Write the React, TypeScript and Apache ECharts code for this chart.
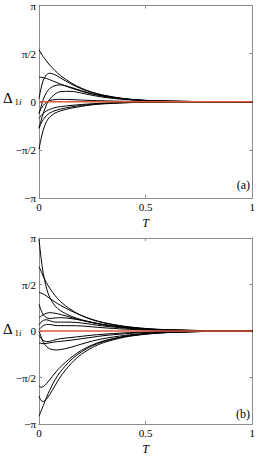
import React, { useEffect, useRef } from "react";
import * as echarts from "echarts";

const T = [0, 0.01, 0.02, 0.035, 0.05, 0.075, 0.1, 0.15, 0.2, 0.25, 0.3, 0.4, 0.5, 0.6, 0.8, 1.0];

const curvesA: number[][] = [
  [1.70, 1.58, 1.47, 1.33, 1.20, 1.02, 0.86, 0.62, 0.44, 0.31, 0.22, 0.10, 0.045, 0.02, 0.004, 0.001],
  [0.80, 0.80, 0.79, 0.76, 0.72, 0.65, 0.58, 0.45, 0.34, 0.25, 0.18, 0.09, 0.04, 0.018, 0.004, 0.001],
  [0.10, 0.45, 0.70, 0.88, 0.93, 0.88, 0.78, 0.58, 0.42, 0.30, 0.21, 0.10, 0.045, 0.02, 0.004, 0.001],
  [-0.40, -0.15, 0.08, 0.30, 0.43, 0.53, 0.55, 0.47, 0.36, 0.26, 0.19, 0.09, 0.04, 0.018, 0.004, 0.001],
  [-0.85, -0.60, -0.38, -0.10, 0.08, 0.25, 0.33, 0.34, 0.28, 0.21, 0.15, 0.075, 0.035, 0.015, 0.003, 0.001],
  [-0.35, -0.22, -0.12, -0.02, 0.04, 0.07, 0.08, 0.07, 0.055, 0.04, 0.03, 0.015, 0.007, 0.003, 0.001, 0],
  [-0.55, -0.45, -0.38, -0.30, -0.25, -0.19, -0.16, -0.12, -0.09, -0.065, -0.045, -0.022, -0.01, -0.005, -0.001, 0],
  [-0.87, -0.70, -0.58, -0.45, -0.37, -0.29, -0.24, -0.17, -0.12, -0.085, -0.06, -0.03, -0.014, -0.006, -0.001, 0],
  [-1.55, -1.20, -0.92, -0.65, -0.50, -0.37, -0.30, -0.21, -0.15, -0.10, -0.07, -0.035, -0.016, -0.007, -0.001, 0],
];

const curvesB: number[][] = [
  [3.10, 2.45, 1.95, 1.45, 1.14, 0.85, 0.69, 0.50, 0.38, 0.29, 0.22, 0.12, 0.06, 0.03, 0.007, 0.002],
  [2.17, 2.02, 1.85, 1.63, 1.45, 1.20, 1.00, 0.72, 0.52, 0.38, 0.28, 0.15, 0.08, 0.04, 0.01, 0.002],
  [1.30, 1.28, 1.25, 1.18, 1.10, 0.98, 0.87, 0.68, 0.52, 0.39, 0.29, 0.16, 0.085, 0.045, 0.012, 0.003],
  [0.90, 0.70, 0.55, 0.45, 0.42, 0.44, 0.45, 0.42, 0.36, 0.29, 0.22, 0.13, 0.07, 0.035, 0.009, 0.002],
  [0.45, 0.50, 0.55, 0.60, 0.62, 0.60, 0.56, 0.46, 0.36, 0.28, 0.21, 0.12, 0.065, 0.033, 0.008, 0.002],
  [0.20, 0.30, 0.36, 0.38, 0.35, 0.30, 0.30, 0.30, 0.27, 0.22, 0.17, 0.10, 0.055, 0.028, 0.007, 0.002],
  [0.05, 0.12, 0.18, 0.22, 0.22, 0.19, 0.18, 0.18, 0.17, 0.14, 0.11, 0.065, 0.035, 0.018, 0.005, 0.001],
  [-0.15, -0.25, -0.32, -0.36, -0.35, -0.30, -0.26, -0.22, -0.18, -0.14, -0.11, -0.065, -0.035, -0.018, -0.005, -0.001],
  [0.0, -0.20, -0.38, -0.52, -0.60, -0.64, -0.63, -0.55, -0.44, -0.34, -0.26, -0.15, -0.08, -0.04, -0.01, -0.002],
  [-0.40, -0.42, -0.43, -0.42, -0.40, -0.37, -0.35, -0.31, -0.26, -0.21, -0.16, -0.095, -0.05, -0.026, -0.006, -0.001],
  [-1.86, -1.90, -1.88, -1.78, -1.65, -1.42, -1.22, -0.90, -0.65, -0.47, -0.34, -0.18, -0.095, -0.05, -0.012, -0.003],
  [-2.20, -2.35, -2.38, -2.30, -2.15, -1.85, -1.55, -1.10, -0.78, -0.56, -0.40, -0.21, -0.11, -0.055, -0.013, -0.003],
  [-2.88, -2.70, -2.52, -2.25, -2.00, -1.65, -1.38, -0.98, -0.70, -0.50, -0.36, -0.19, -0.10, -0.05, -0.012, -0.003],
];

const xTicks = [0, 0.5, 1];
const xTickLabels = ["0", "0.5", "1"];
const yTickLabels: Record<string, string> = { "2": "π", "1": "π/2", "0": "0", "-1": "−π/2", "-2": "−π" };
const panelLabels = ["(a)", "(b)"];
const zeroLine = [0, 0];

const FRAME = "#8c8c8c";
const SERIF = "'Liberation Serif', 'DejaVu Serif', serif";

export default function App() {
  const ref = useRef<HTMLDivElement>(null);
  useEffect(() => {
    if (!ref.current) return;
    const chart = echarts.init(ref.current, undefined, { renderer: "svg" });
    const grids = [
      { left: 39, top: 2, width: 215, height: 196 },
      { left: 39, top: 238, width: 215, height: 186 },
    ];
    const xAxis: any[] = [];
    const yAxis: any[] = [];
    grids.forEach((_, g) => {
      const baseX = {
        gridIndex: g,
        type: "value",
        min: 0,
        max: 1,
        interval: 0.5,
        splitLine: { show: false },
        axisLine: { show: true, onZero: false, lineStyle: { color: FRAME, width: 1 } },
        axisTick: { show: true, inside: true, length: 3, lineStyle: { color: FRAME } },
      };
      xAxis.push({
        ...baseX,
        position: "bottom",
        name: "T",
        nameLocation: "middle",
        nameGap: 19,
        nameTextStyle: { fontFamily: SERIF, fontStyle: "italic", fontSize: 12, color: "#000" },
        axisLabel: {
          fontFamily: SERIF,
          fontSize: 11,
          color: "#000",
          margin: 3,
          formatter: (v: number) => {
            const i = xTicks.findIndex((t) => Math.abs(t - v) < 1e-6);
            return i >= 0 ? xTickLabels[i] : "";
          },
        },
      });
      xAxis.push({ ...baseX, position: "top", axisLabel: { show: false } });
      const baseY = {
        gridIndex: g,
        type: "value",
        min: -Math.PI,
        max: Math.PI,
        interval: Math.PI / 2,
        splitLine: { show: false },
        axisLine: { show: true, onZero: false, lineStyle: { color: FRAME, width: 1 } },
        axisTick: { show: true, inside: true, length: 3, lineStyle: { color: FRAME } },
      };
      yAxis.push({
        ...baseY,
        position: "left",
        axisLabel: {
          fontFamily: SERIF,
          fontSize: 11,
          color: "#000",
          margin: 3,
          formatter: (v: number) => yTickLabels[String(Math.round(v / (Math.PI / 2)))] ?? "",
        },
      });
      yAxis.push({ ...baseY, position: "right", axisLabel: { show: false } });
    });

    const series: any[] = [];
    [curvesA, curvesB].forEach((curves, g) => {
      curves.forEach((c) => {
        series.push({
          type: "line",
          xAxisIndex: g * 2,
          yAxisIndex: g * 2,
          data: T.map((t, i) => [t, c[i]]),
          smooth: 0.3,
          showSymbol: false,
          lineStyle: { color: "#000", width: 1 },
          silent: true,
        });
      });
      series.push({
        type: "line",
        xAxisIndex: g * 2,
        yAxisIndex: g * 2,
        data: [
          [0, zeroLine[0]],
          [1, zeroLine[1]],
        ],
        showSymbol: false,
        lineStyle: { color: "#e4553c", width: 1.5 },
        silent: true,
        z: 5,
      });
    });

    const graphic: any[] = [];
    const deltaY = [97.5, 329];
    const panelY = [185, 414];
    [0, 1].forEach((g) => {
      graphic.push({
        type: "text",
        x: 3,
        y: deltaY[g],
        style: { text: "Δ", fontFamily: SERIF, fontSize: 15, fill: "#000", verticalAlign: "middle" },
      });
      graphic.push({
        type: "text",
        x: 14.5,
        y: deltaY[g] + 4,
        style: { text: "1", fontFamily: SERIF, fontSize: 9, fill: "#000", verticalAlign: "middle" },
      });
      graphic.push({
        type: "text",
        x: 19,
        y: deltaY[g] + 4,
        style: { text: "i", fontFamily: SERIF, fontStyle: "italic", fontSize: 9, fill: "#000", verticalAlign: "middle" },
      });
      graphic.push({
        type: "text",
        x: 250,
        y: panelY[g],
        style: {
          text: panelLabels[g],
          fontFamily: SERIF,
          fontSize: 12,
          fill: "#000",
          align: "right",
          verticalAlign: "middle",
        },
      });
    });

    chart.setOption({
      animation: false,
      backgroundColor: "#fff",
      grid: grids,
      xAxis,
      yAxis,
      series,
      graphic,
    });
    return () => chart.dispose();
  }, []);
  return (
    <div
      ref={ref}
      style={{ position: "absolute", left: 0, top: 0, width: 258, height: 456 }}
    />
  );
}
